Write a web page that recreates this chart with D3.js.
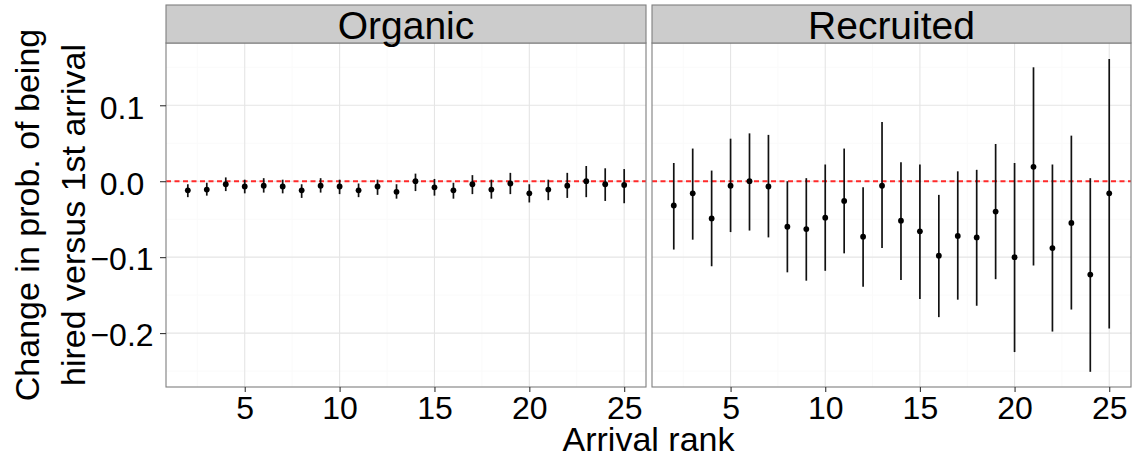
<!DOCTYPE html>
<html>
<head>
<meta charset="utf-8">
<script src="https://cdn.jsdelivr.net/npm/d3@7"></script>
<style>
  body { margin: 0; background: #fff; }
  text { font-family: "Liberation Sans", Arial, sans-serif; }
</style>
</head>
<body>
<script>
// arrival ranks 2..25
const ranks = [2,3,4,5,6,7,8,9,10,11,12,13,14,15,16,17,18,19,20,21,22,23,24,25];

// Organic: estimate, lower, upper
const organicEst = [-0.012,-0.011,-0.004,-0.007,-0.006,-0.007,-0.012,-0.006,-0.007,-0.012,-0.007,-0.014,
                    0.000,-0.008,-0.012,-0.004,-0.011,-0.003,-0.016,-0.011,-0.006,0.000,-0.004,-0.005];
const organicLo  = [-0.021,-0.019,-0.013,-0.016,-0.015,-0.016,-0.022,-0.015,-0.017,-0.021,-0.018,-0.023,
                    -0.013,-0.019,-0.023,-0.017,-0.023,-0.017,-0.028,-0.025,-0.022,-0.021,-0.026,-0.029];
const organicHi  = [-0.004,-0.002,0.005,0.002,0.004,0.002,-0.004,0.004,0.002,-0.003,0.002,-0.004,
                    0.010,0.003,-0.002,0.008,0.002,0.011,-0.004,0.002,0.011,0.020,0.017,0.016];

// Recruited: estimate, lower, upper
const recruitedEst = [-0.032,-0.016,-0.049,-0.006,0.000,-0.007,-0.060,-0.063,-0.048,-0.026,-0.073,-0.006,
                      -0.052,-0.066,-0.098,-0.072,-0.074,-0.040,-0.100,0.019,-0.088,-0.055,-0.123,-0.016];
const recruitedLo  = [-0.090,-0.077,-0.112,-0.067,-0.065,-0.074,-0.120,-0.131,-0.118,-0.095,-0.139,-0.088,
                      -0.130,-0.155,-0.179,-0.156,-0.164,-0.129,-0.225,-0.111,-0.198,-0.169,-0.251,-0.194];
const recruitedHi  = [0.024,0.043,0.014,0.056,0.063,0.061,0.000,0.004,0.022,0.043,-0.008,0.078,
                      0.025,0.022,-0.018,0.013,0.015,0.049,0.024,0.150,0.022,0.060,0.004,0.161];

const facets = ["Organic", "Recruited"];
const xTicks = [5, 10, 15, 20, 25];
const yTicks = [0.1, 0.0, -0.1, -0.2];

const panels = [
  {name: facets[0], est: organicEst, lo: organicLo, hi: organicHi, left: 166, right: 646},
  {name: facets[1], est: recruitedEst, lo: recruitedLo, hi: recruitedHi, left: 652, right: 1131}
];

const W = 1133, H = 460;
const stripTop = 5, panelTop = 43, panelBottom = 387;

const svg = d3.select('body').append('svg')
  .attr('width', W)
  .attr('height', H);

const yScale = d3.scaleLinear()
  .domain([-0.271, 0.182])
  .range([panelBottom, panelTop]);

const fmt = d => (d < 0 ? "\u2212" : "") + Math.abs(d).toFixed(1);

panels.forEach((p, pi) => {
  const xScale = d3.scaleLinear()
    .domain([0.85, 26.15])
    .range([p.left, p.right]);

  const g = svg.append('g');

  // minor grid
  const xMinor = [2.5, 7.5, 12.5, 17.5, 22.5];
  const yMinor = [0.15, 0.05, -0.05, -0.15, -0.25];
  g.selectAll('.xminor').data(xMinor).enter().append('line')
    .attr('x1', d => xScale(d)).attr('x2', d => xScale(d))
    .attr('y1', panelTop).attr('y2', panelBottom)
    .attr('stroke', '#fafafa').attr('stroke-width', 1);
  g.selectAll('.yminor').data(yMinor).enter().append('line')
    .attr('x1', p.left).attr('x2', p.right)
    .attr('y1', d => yScale(d)).attr('y2', d => yScale(d))
    .attr('stroke', '#fafafa').attr('stroke-width', 1);

  // major grid
  g.selectAll('.xmajor').data(xTicks).enter().append('line')
    .attr('x1', d => xScale(d)).attr('x2', d => xScale(d))
    .attr('y1', panelTop).attr('y2', panelBottom)
    .attr('stroke', '#e5e5e5').attr('stroke-width', 1.1);
  g.selectAll('.ymajor').data(yTicks).enter().append('line')
    .attr('x1', p.left).attr('x2', p.right)
    .attr('y1', d => yScale(d)).attr('y2', d => yScale(d))
    .attr('stroke', '#e5e5e5').attr('stroke-width', 1.1);

  // red reference line at zero
  g.append('line')
    .attr('x1', p.left).attr('x2', p.right)
    .attr('y1', yScale(0)).attr('y2', yScale(0))
    .attr('stroke', '#ff2a2a').attr('stroke-width', 2)
    .attr('stroke-dasharray', '5,3.5');

  // error bars
  g.selectAll('.bar').data(ranks).enter().append('line')
    .attr('x1', (d) => xScale(d)).attr('x2', (d) => xScale(d))
    .attr('y1', (d, i) => yScale(p.lo[i]))
    .attr('y2', (d, i) => yScale(p.hi[i]))
    .attr('stroke', '#111').attr('stroke-width', 1.7);

  // points
  g.selectAll('circle').data(ranks).enter().append('circle')
    .attr('cx', (d) => xScale(d))
    .attr('cy', (d, i) => yScale(p.est[i]))
    .attr('r', 2.9)
    .attr('fill', '#000');

  // panel border
  g.append('rect')
    .attr('x', p.left).attr('y', panelTop)
    .attr('width', p.right - p.left).attr('height', panelBottom - panelTop)
    .attr('fill', 'none').attr('stroke', '#7f7f7f').attr('stroke-width', 1.1);

  // strip
  g.append('rect')
    .attr('x', p.left).attr('y', stripTop)
    .attr('width', p.right - p.left).attr('height', panelTop - stripTop)
    .attr('fill', '#cccccc').attr('stroke', '#7f7f7f').attr('stroke-width', 1.1);
  g.append('text')
    .attr('x', (p.left + p.right) / 2)
    .attr('y', 39)
    .attr('text-anchor', 'middle')
    .attr('font-size', 39)
    .attr('fill', '#000')
    .text(p.name);

  // x axis
  const xAxis = d3.axisBottom(xScale).tickValues(xTicks).tickSize(5).tickPadding(4);
  const xg = svg.append('g')
    .attr('transform', `translate(0, ${panelBottom})`)
    .call(xAxis);
  xg.select('.domain').remove();
  xg.selectAll('.tick line').attr('stroke', '#333').attr('stroke-width', 1.1);
  xg.selectAll('.tick text')
    .attr('font-size', 32)
    .attr('font-family', '"Liberation Sans", Arial, sans-serif')
    .attr('fill', '#000')
    .attr('dy', '0.72em');

  // y axis only on first panel
  if (pi === 0) {
    const yAxis = d3.axisLeft(yScale).tickValues(yTicks).tickSize(6).tickFormat(fmt);
    const yg = svg.append('g')
      .attr('transform', `translate(${p.left}, 0)`)
      .call(yAxis);
    yg.select('.domain').remove();
    yg.selectAll('.tick line').attr('stroke', '#333').attr('stroke-width', 1.1);
    yg.selectAll('.tick text')
      .attr('font-size', 32)
      .attr('font-family', '"Liberation Sans", Arial, sans-serif')
      .attr('fill', '#000')
      .attr('text-anchor', 'middle')
      .attr('x', 122 - p.left)
      .attr('dy', '0.4em');
  }
});

// axis titles
svg.append('text')
  .attr('x', (166 + 1131) / 2)
  .attr('y', 451)
  .attr('text-anchor', 'middle')
  .attr('font-size', 34)
  .attr('fill', '#000')
  .text('Arrival rank');

const yMid = (panelTop + panelBottom) / 2;
const yTitle = svg.append('text')
  .attr('transform', `translate(0, ${yMid}) rotate(-90)`)
  .attr('text-anchor', 'middle')
  .attr('font-size', 34)
  .attr('fill', '#000');
yTitle.append('tspan').attr('x', 0).attr('y', 39).text('Change in prob. of being');
yTitle.append('tspan').attr('x', 0).attr('y', 85).text('hired versus 1st arrival');
</script>
</body>
</html>
